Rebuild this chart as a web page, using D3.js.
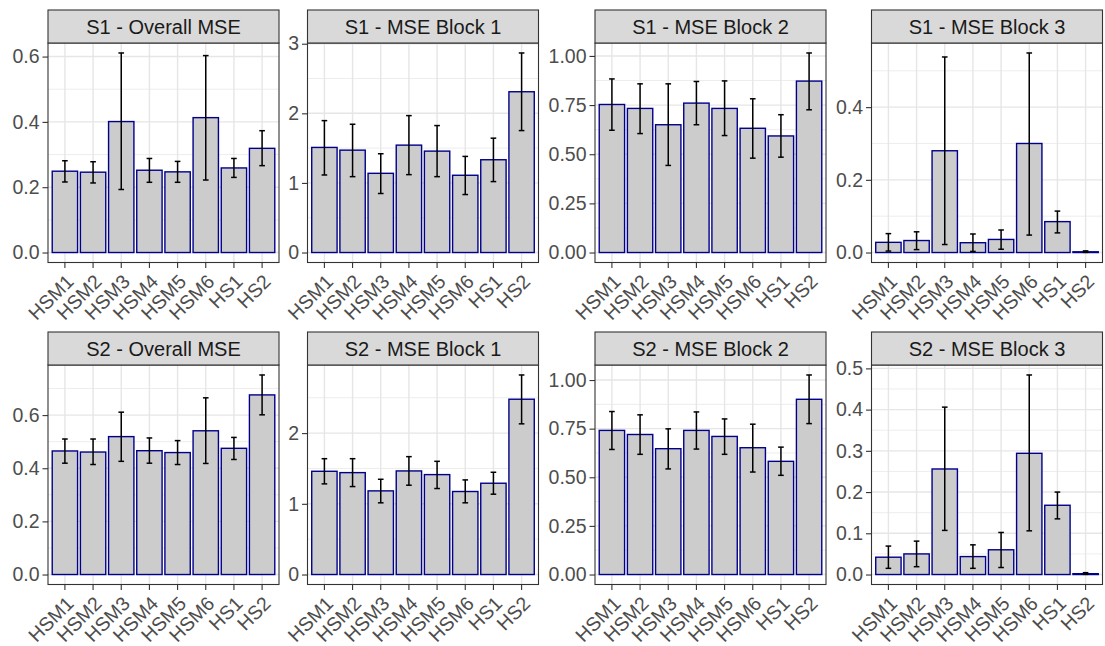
<!DOCTYPE html>
<html><head><meta charset="utf-8">
<script src="https://cdn.jsdelivr.net/npm/d3@7"></script>
<style>body{margin:0;background:#fff} svg{display:block}</style>
</head><body><svg id="c" width="1105" height="646"></svg>
<script>
const categories = ["HSM1","HSM2","HSM3","HSM4","HSM5","HSM6","HS1","HS2"];
const titles = ["S1 - Overall MSE","S1 - MSE Block 1","S1 - MSE Block 2","S1 - MSE Block 3",
                "S2 - Overall MSE","S2 - MSE Block 1","S2 - MSE Block 2","S2 - MSE Block 3"];

// S1 - Overall MSE
const s1OverallMean = [0.249,0.246,0.401,0.252,0.247,0.413,0.259,0.319];
const s1OverallLo   = [0.216,0.213,0.193,0.215,0.215,0.222,0.230,0.266];
const s1OverallHi   = [0.281,0.278,0.611,0.288,0.279,0.603,0.288,0.373];
const s1OverallTicks = [0.0,0.2,0.4,0.6];
// S1 - MSE Block 1
const s1B1Mean = [1.510,1.471,1.138,1.543,1.457,1.110,1.333,2.310];
const s1B1Lo   = [1.114,1.090,0.848,1.119,1.090,0.833,1.019,1.752];
const s1B1Hi   = [1.895,1.843,1.419,1.967,1.824,1.381,1.643,2.867];
const s1B1Ticks = [0,1,2,3];
// S1 - MSE Block 2
const s1B2Mean = [0.753,0.733,0.650,0.760,0.733,0.632,0.593,0.872];
const s1B2Lo   = [0.622,0.605,0.443,0.650,0.595,0.480,0.485,0.726];
const s1B2Hi   = [0.883,0.858,0.858,0.870,0.873,0.782,0.701,1.015];
const s1B2Ticks = [0.00,0.25,0.50,0.75,1.00];
// S1 - MSE Block 3
const s1B3Mean = [0.028,0.033,0.280,0.027,0.036,0.300,0.085,0.002];
const s1B3Lo   = [0.004,0.008,0.022,0.003,0.009,0.048,0.054,0.0005];
const s1B3Hi   = [0.052,0.057,0.538,0.051,0.062,0.549,0.114,0.0045];
const s1B3Ticks = [0.0,0.2,0.4];
// S2 - Overall MSE
const s2OverallMean = [0.465,0.461,0.519,0.466,0.459,0.541,0.475,0.676];
const s2OverallLo   = [0.419,0.414,0.426,0.419,0.414,0.418,0.433,0.601];
const s2OverallHi   = [0.510,0.510,0.611,0.514,0.504,0.665,0.516,0.751];
const s2OverallTicks = [0.0,0.2,0.4,0.6];
// S2 - MSE Block 1
const s2B1Mean = [1.460,1.441,1.183,1.465,1.413,1.174,1.291,2.479];
const s2B1Lo   = [1.282,1.244,1.014,1.263,1.216,1.014,1.136,2.131];
const s2B1Hi   = [1.638,1.638,1.347,1.667,1.601,1.338,1.446,2.822];
const s2B1Ticks = [0,1,2];
// S2 - MSE Block 2
const s2B2Mean = [0.741,0.720,0.647,0.741,0.710,0.652,0.582,0.901];
const s2B2Lo   = [0.643,0.618,0.543,0.645,0.618,0.527,0.510,0.776];
const s2B2Hi   = [0.838,0.821,0.749,0.836,0.800,0.773,0.655,1.026];
const s2B2Ticks = [0.00,0.25,0.50,0.75,1.00];
// S2 - MSE Block 3
const s2B3Mean = [0.042,0.050,0.256,0.0435,0.060,0.294,0.168,0.002];
const s2B3Lo   = [0.015,0.019,0.107,0.015,0.017,0.106,0.135,0.0005];
const s2B3Hi   = [0.069,0.081,0.406,0.072,0.102,0.484,0.200,0.0045];
const s2B3Ticks = [0.0,0.1,0.2,0.3,0.4,0.5];

const panels = [
  {title:titles[0], mean:s1OverallMean, lo:s1OverallLo, hi:s1OverallHi, ticks:s1OverallTicks, fmt:".1f"},
  {title:titles[1], mean:s1B1Mean, lo:s1B1Lo, hi:s1B1Hi, ticks:s1B1Ticks, fmt:"d"},
  {title:titles[2], mean:s1B2Mean, lo:s1B2Lo, hi:s1B2Hi, ticks:s1B2Ticks, fmt:".2f"},
  {title:titles[3], mean:s1B3Mean, lo:s1B3Lo, hi:s1B3Hi, ticks:s1B3Ticks, fmt:".1f"},
  {title:titles[4], mean:s2OverallMean, lo:s2OverallLo, hi:s2OverallHi, ticks:s2OverallTicks, fmt:".1f"},
  {title:titles[5], mean:s2B1Mean, lo:s2B1Lo, hi:s2B1Hi, ticks:s2B1Ticks, fmt:"d"},
  {title:titles[6], mean:s2B2Mean, lo:s2B2Lo, hi:s2B2Hi, ticks:s2B2Ticks, fmt:".2f"},
  {title:titles[7], mean:s2B3Mean, lo:s2B3Lo, hi:s2B3Hi, ticks:s2B3Ticks, fmt:".1f"}
];

// layout
const colLeft = [48, 307.5, 595, 871.5];
const panelW = 231;
const stripTop = [10, 332];
const stripH = 33;
const plotH = 219.5;
const FONT = "'Liberation Sans', Arial, Helvetica, sans-serif";
const FS = 19.5;
const FS_STRIP = 20;

const svg = d3.select("#c");
svg.append("rect").attr("width",1105).attr("height",646).attr("fill","#fff");

panels.forEach((p, i) => {
  const col = i % 4, row = Math.floor(i / 4);
  const left = colLeft[col];
  const sTop = stripTop[row];
  const top = sTop + stripH;
  const g = svg.append("g").attr("transform", `translate(${left},${top})`);

  const x = d3.scaleBand().domain(categories).range([0, panelW]).paddingInner(0.1).paddingOuter(0.15);
  const step = x.step();
  const ymax = d3.max(p.hi);
  const y = d3.scaleLinear().domain([-0.05*ymax, 1.05*ymax]).range([plotH, 0]);
  const [d0, d1] = y.domain();

  // grid
  const tstep = p.ticks[1] - p.ticks[0];
  const minors = d3.range(p.ticks[0] - tstep/2, d1 + 1e-9, tstep).filter(v => v >= d0 && v <= d1);
  g.selectAll(".gmin").data(minors).join("line")
    .attr("x1",0).attr("x2",panelW).attr("y1",d=>y(d)).attr("y2",d=>y(d))
    .attr("stroke","#EBEBEB").attr("stroke-width",0.9);
  g.selectAll(".gmaj").data(p.ticks).join("line")
    .attr("x1",0).attr("x2",panelW).attr("y1",d=>y(d)).attr("y2",d=>y(d))
    .attr("stroke","#E6E6E6").attr("stroke-width",1.4);
  g.selectAll(".gx").data(categories).join("line")
    .attr("x1",d=>x(d)+x.bandwidth()/2).attr("x2",d=>x(d)+x.bandwidth()/2)
    .attr("y1",0).attr("y2",plotH)
    .attr("stroke","#E6E6E6").attr("stroke-width",1.4);

  // bars
  g.selectAll(".bar").data(categories).join("rect")
    .attr("x", d => x(d)).attr("width", x.bandwidth())
    .attr("y", (d,k) => y(p.mean[k])).attr("height", (d,k) => y(0) - y(p.mean[k]))
    .attr("fill","#CCCCCC").attr("stroke","#00008B").attr("stroke-width",1.4);

  // error bars
  const cap = step * 0.2;
  const eb = g.selectAll(".eb").data(categories).join("g");
  eb.append("line")
    .attr("x1",d=>x(d)+x.bandwidth()/2).attr("x2",d=>x(d)+x.bandwidth()/2)
    .attr("y1",(d,k)=>y(p.lo[k])).attr("y2",(d,k)=>y(p.hi[k]))
    .attr("stroke","#000").attr("stroke-width",1.5);
  eb.append("line")
    .attr("x1",d=>x(d)+x.bandwidth()/2-cap/2).attr("x2",d=>x(d)+x.bandwidth()/2+cap/2)
    .attr("y1",(d,k)=>y(p.lo[k])).attr("y2",(d,k)=>y(p.lo[k]))
    .attr("stroke","#000").attr("stroke-width",1.5);
  eb.append("line")
    .attr("x1",d=>x(d)+x.bandwidth()/2-cap/2).attr("x2",d=>x(d)+x.bandwidth()/2+cap/2)
    .attr("y1",(d,k)=>y(p.hi[k])).attr("y2",(d,k)=>y(p.hi[k]))
    .attr("stroke","#000").attr("stroke-width",1.5);

  // panel border
  g.append("rect").attr("x",0).attr("y",0).attr("width",panelW).attr("height",plotH)
    .attr("fill","none").attr("stroke","#333333").attr("stroke-width",1.1);

  // y axis
  const ya = g.append("g").call(d3.axisLeft(y).tickValues(p.ticks).tickFormat(d3.format(p.fmt)).tickSize(5.5).tickPadding(3));
  ya.select(".domain").remove();
  ya.selectAll("line").attr("stroke","#333333").attr("stroke-width",1.1);
  ya.selectAll("text").attr("fill","#4D4D4D").style("font-family",FONT).style("font-size",FS+"px");

  // x axis
  const xa = g.append("g").attr("transform",`translate(0,${plotH})`)
    .call(d3.axisBottom(x).tickSize(5.5));
  xa.select(".domain").remove();
  xa.selectAll("line").attr("stroke","#333333").attr("stroke-width",1.1);
  xa.selectAll("text")
    .attr("x",0).attr("y",0).attr("dy","0.72em")
    .attr("text-anchor","end")
    .attr("transform","translate(0,10.5) rotate(-45)")
    .attr("fill","#4D4D4D").style("font-family",FONT).style("font-size",FS+"px");

  // strip
  const s = svg.append("g").attr("transform",`translate(${left},${sTop})`);
  s.append("rect").attr("x",0).attr("y",0).attr("width",panelW).attr("height",stripH)
    .attr("fill","#D9D9D9").attr("stroke","#333333").attr("stroke-width",1.1);
  s.append("text").attr("x",panelW/2).attr("y",stripH/2).attr("dy","0.36em")
    .attr("text-anchor","middle").attr("fill","#1A1A1A")
    .style("font-family",FONT).style("font-size",FS_STRIP+"px").text(p.title);
});
</script>
</body></html>
